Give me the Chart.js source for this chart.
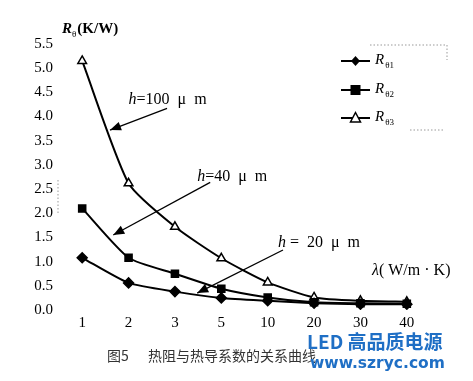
<!DOCTYPE html>
<html><head><meta charset="utf-8">
<script src="https://cdn.jsdelivr.net/npm/chart.js@4/dist/chart.umd.min.js"></script>
<style>html,body{margin:0;padding:0;background:#fff}#wrap{width:473px;height:381px;position:relative}</style>
</head><body><div id="wrap"><canvas id="c" width="473" height="381"></canvas></div>
<script>
const categories = ['1','2','3','5','10','20','30','40'];
const r1 = [1.08, 0.56, 0.38, 0.25, 0.19, 0.14, 0.12, 0.12];
const r2 = [2.10, 1.08, 0.75, 0.44, 0.26, 0.16, 0.14, 0.13];
const r3 = [5.15, 2.62, 1.72, 1.07, 0.57, 0.26, 0.19, 0.17];
const seriesSubs = ['θ1', 'θ2', 'θ3'];
const annotations = [
  {label: '=100  μ  m', tx: 1.0, ty: 4.34, from: [1.83, 4.17], to: [0.6, 3.72]},
  {label: '=40  μ  m', tx: 2.48, ty: 2.75, from: [2.76, 2.64], to: [0.67, 1.55]},
  {label: ' =  20  μ  m', tx: 4.22, ty: 1.38, from: [4.33, 1.24], to: [2.48, 0.35]}
];

const serif = '"Liberation Serif", "DejaVu Serif", serif';

function drawMarker(ctx, style, x, y) {
  ctx.save();
  ctx.lineWidth = 1.5;
  ctx.strokeStyle = '#000';
  ctx.fillStyle = '#000';
  ctx.beginPath();
  if (style === 'rectRot') {
    ctx.moveTo(x, y - 5); ctx.lineTo(x + 4.5, y); ctx.lineTo(x, y + 5); ctx.lineTo(x - 4.5, y); ctx.closePath(); ctx.fill();
  } else if (style === 'rect') {
    ctx.rect(x - 5, y - 5, 10, 10); ctx.fill();
  } else {
    ctx.moveTo(x, y - 5.5); ctx.lineTo(x + 5, y + 4); ctx.lineTo(x - 5, y + 4); ctx.closePath();
    ctx.fillStyle = '#fff'; ctx.fill(); ctx.stroke();
  }
  ctx.restore();
}

const extras = {
  id: 'extras',
  afterDatasetsDraw(chart) {
    const ctx = chart.ctx;
    const xs = chart.scales.x, ys = chart.scales.y;
    const px = v => xs.getPixelForValue(v);
    const py = v => ys.getPixelForValue(v);
    ctx.save();
    ctx.fillStyle = '#000';
    ctx.strokeStyle = '#000';
    // y-axis title
    ctx.textBaseline = 'middle';
    ctx.textAlign = 'left';
    ctx.font = 'italic bold 15px ' + serif;
    ctx.fillText('R', 62, 29);
    let w = ctx.measureText('R').width;
    ctx.font = '9px ' + serif;
    ctx.fillText('θ', 62 + w, 35);
    let w2 = ctx.measureText('θ').width;
    ctx.font = 'bold 15px ' + serif;
    ctx.fillText('(K/W)', 62 + w + w2 + 1, 29);
    // x-axis title
    ctx.font = 'italic 16px ' + serif;
    ctx.fillText('λ', 372, 271);
    w = ctx.measureText('λ').width;
    ctx.font = '16px ' + serif;
    ctx.fillText('( W/m \u00b7 K)', 372 + w, 271);
    // annotations
    annotations.forEach(a => {
      const x = px(a.tx), y = py(a.ty);
      ctx.font = 'italic 16px ' + serif;
      ctx.fillText('h', x, y);
      const hw = ctx.measureText('h').width;
      ctx.font = '16px ' + serif;
      ctx.fillText(a.label, x + hw, y);
      const x1 = px(a.from[0]), y1 = py(a.from[1]);
      const x2 = px(a.to[0]), y2 = py(a.to[1]);
      ctx.lineWidth = 1.3;
      ctx.beginPath(); ctx.moveTo(x1, y1); ctx.lineTo(x2, y2); ctx.stroke();
      const ang = Math.atan2(y2 - y1, x2 - x1);
      const L = 11, H = 4.5;
      ctx.beginPath();
      ctx.moveTo(x2, y2);
      ctx.lineTo(x2 - L * Math.cos(ang) + H * Math.sin(ang), y2 - L * Math.sin(ang) - H * Math.cos(ang));
      ctx.lineTo(x2 - L * Math.cos(ang) - H * Math.sin(ang), y2 - L * Math.sin(ang) + H * Math.cos(ang));
      ctx.closePath(); ctx.fill();
    });
    // legend
    const ly = [61, 90, 118];
    chart.data.datasets.forEach((ds, i) => {
      ctx.lineWidth = 2;
      ctx.beginPath(); ctx.moveTo(341, ly[i]); ctx.lineTo(370, ly[i]); ctx.stroke();
      drawMarker(ctx, ds.pointStyle, 355.5, ly[i]);
      ctx.fillStyle = '#000';
      ctx.font = 'italic 15px ' + serif;
      ctx.fillText('R', 375, ly[i] - 1);
      const rw = ctx.measureText('R').width;
      ctx.font = '9px ' + serif;
      ctx.fillText(seriesSubs[i], 375 + rw + 1, ly[i] + 5);
    });
    // faint dotted legend frame bits
    ctx.strokeStyle = '#999';
    ctx.lineWidth = 1;
    ctx.setLineDash([1.5, 2]);
    ctx.beginPath();
    ctx.moveTo(370, 45); ctx.lineTo(447, 45);
    ctx.moveTo(447, 45); ctx.lineTo(447, 60);
    ctx.moveTo(410, 130); ctx.lineTo(445, 130);
    ctx.moveTo(58, 180); ctx.lineTo(58, 215);
    ctx.stroke();
    ctx.setLineDash([]);
    // caption
    ctx.fillStyle = '#333';
    ctx.font = '14px "Noto Sans CJK SC", sans-serif';
    ctx.fillText('图5', 107, 356);
    ctx.fillText('热阻与热导系数的关系曲线', 148, 356);
    // watermark
    ctx.fillStyle = '#1f6fc5';
    ctx.font = 'bold 19px "Noto Sans CJK SC", sans-serif';
    ctx.fillText('LED 高品质电源', 307, 342);
    ctx.font = 'bold 15.5px "DejaVu Sans", sans-serif';
    ctx.fillText('www.szryc.com', 310, 364);
    ctx.restore();
  }
};

const mk = (data, style) => ({
  data: data,
  borderColor: '#000',
  borderWidth: 2,
  backgroundColor: style === 'triangle' ? '#fff' : '#000',
  pointBorderColor: '#000',
  pointBorderWidth: 1.5,
  pointStyle: style,
  pointRadius: 5,
  tension: 0.2,
  fill: false
});

new Chart(document.getElementById('c'), {
  type: 'line',
  data: {
    labels: categories,
    datasets: [mk(r1, 'rectRot'), mk(r2, 'rect'), mk(r3, 'triangle')]
  },
  options: {
    responsive: false,
    animation: false,
    layout: {padding: {top: 44, right: 43, bottom: 41, left: 0}},
    plugins: {legend: {display: false}, tooltip: {enabled: false}},
    scales: {
      x: {
        offset: true,
        grid: {display: false, drawTicks: false},
        border: {display: false},
        ticks: {color: '#000', font: {family: serif, size: 15}, padding: 4, maxRotation: 0},
        afterFit: s => { s.height = 30; }
      },
      y: {
        min: 0, max: 5.5,
        grid: {display: false, drawTicks: false},
        border: {display: false},
        ticks: {stepSize: 0.5, color: '#000', font: {family: serif, size: 15}, padding: 6,
          callback: v => Number(v).toFixed(1)},
        afterFit: s => { s.width = 59; }
      }
    }
  },
  plugins: [extras]
});
</script></body></html>
